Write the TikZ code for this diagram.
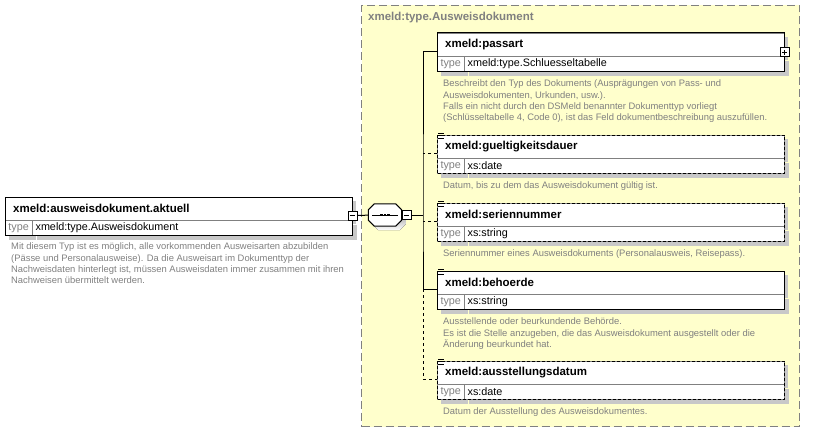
\documentclass[tikz,border=0pt]{standalone}
\usepackage{fontspec}
\setmainfont{Liberation Sans}
\usetikzlibrary{positioning, calc, shadows}
\usepackage{xcolor}
\definecolor{cplx}{HTML}{FFFFCC}
\definecolor{shade}{HTML}{C8C8C8}
\definecolor{note}{HTML}{808080}

\begin{document}
\begin{tikzpicture}[x=1pt, y=-1pt,
    shadowed/.style={drop shadow={shadow xshift=4pt, shadow yshift=-4pt, fill=shade, opacity=1}},
    container/.style={draw=note, fill=cplx, line width=1pt, dash pattern=on 8pt off 4pt, anchor=north west, minimum width=438pt, minimum height=421pt, inner sep=0pt},
    head/.style={draw=note, fill=white, shadowed, anchor=north west, minimum height=23pt, inner xsep=8pt, inner ysep=0pt, text width=331pt, align=left, font=\fontsize{11.5}{13}\selectfont\bfseries},
    tkey/.style={draw=note, fill=white, shadowed, anchor=north west, minimum width=27pt, minimum height=15pt, inner sep=0pt, text=note, font=\fontsize{10.8}{12}\selectfont},
    tval/.style={draw=note, fill=white, shadowed, minimum height=15pt, inner xsep=3pt, inner ysep=0pt, text width=314pt, align=left, font=\fontsize{10.8}{12}\selectfont},
    doc/.style={anchor=north west, inner sep=0pt, align=left, text=note, font=\fontsize{9.4}{11.3}\selectfont},
    frame/.style={line width=1pt},
    optframe/.style={line width=1pt, dash pattern=on 3pt off 2pt},
    wire/.style={line width=1pt},
    optwire/.style={line width=1pt, dash pattern=on 3pt off 3pt},
    toggle/.style={draw, fill=white, minimum size=9pt, inner sep=0pt, line width=0.8pt},
    minus/.style={toggle, path picture={\draw[line width=0.8pt] ([xshift=2pt]path picture bounding box.west) -- ([xshift=-2pt]path picture bounding box.east);}},
    plus/.style={toggle, path picture={\draw[line width=0.8pt] ([xshift=2pt]path picture bounding box.west) -- ([xshift=-2pt]path picture bounding box.east) ([yshift=-2pt]path picture bounding box.north) -- ([yshift=2pt]path picture bounding box.south);}},
    seq/.style={minimum width=33pt, minimum height=22pt, inner sep=0pt},
    octo/.style={line width=1pt, fill=white},
]
\useasboundingbox (0,0) rectangle (818,433);

% ── complex type ──
\node[container] (cx) at (361,5) {};
\node[anchor=west, inner sep=0pt, text=note, font=\fontsize{11.5}{13}\selectfont\bfseries] (cx-t) at (368,18) {xmeld:type.Ausweisdokument};

% ── root element ──
\node[head] (ad) at (5,197) {xmeld:ausweisdokument.aktuell};
\node[tkey] (ad-k) at (ad.south west) {type};
\node[tval, right=0pt of ad-k] (ad-v) {xmeld:type.Ausweisdokument};
\draw[frame] (ad.north west) rectangle (ad-v.south east);
\node[doc] (ad-d) at ($(ad-k.south west)+(6,7)$) {Mit diesem Typ ist es möglich, alle vorkommenden Ausweisarten abzubilden\\(Pässe und Personalausweise). Da die Ausweisart im Dokumenttyp der\\Nachweisdaten hinterlegt ist, müssen Ausweisdaten immer zusammen mit ihren\\Nachweisen übermittelt werden.};
\node[minus] (ad-m) at ([yshift=5pt]ad.south east) {};

% ── sequence ──
\node[seq] (sq) at (385,215) {};
\fill[shade] ($(sq.north west)+(10,4)$) -- ($(sq.north east)+(-2,4)$) -- ($(sq.north east)+(4,10)$)
    -- ($(sq.south east)+(4,-2)$) -- ($(sq.south east)+(-2,4)$) -- ($(sq.south west)+(10,4)$)
    -- ($(sq.south west)+(4,-2)$) -- ($(sq.north west)+(4,10)$) -- cycle;
\draw[octo] ($(sq.north west)+(6,0)$) -- ($(sq.north east)+(-6,0)$) -- ($(sq.north east)+(0,6)$)
    -- ($(sq.south east)+(0,-6)$) -- ($(sq.south east)+(-6,0)$) -- ($(sq.south west)+(6,0)$)
    -- ($(sq.south west)+(0,-6)$) -- ($(sq.north west)+(0,6)$) -- cycle;
\draw[line width=1pt] ($(sq.west)+(4,0)$) -- ($(sq.east)+(-4,0)$);
\foreach \d in {-3.5,0,3.5}
    \fill ($(sq.center)+(\d-1.2,-1.2)$) rectangle ++(2.4,2.4);
\node[minus, right=0pt of sq] (sq-m) {};
\coordinate (bus) at (423,215);

% ── passart ──
\node[head] (pa) at (437,33) {xmeld:passart};
\node[tkey] (pa-k) at (pa.south west) {type};
\node[tval, right=0pt of pa-k] (pa-v) {xmeld:type.Schluesseltabelle};
\draw[frame] (pa.north west) rectangle (pa-v.south east);
\node[plus] (pa-p) at ([yshift=4pt]pa.south east) {};
\node[doc] (pa-d) at ($(pa-k.south west)+(6,8)$) {Beschreibt den Typ des Dokuments (Ausprägungen von Pass- und\\Ausweisdokumenten, Urkunden, usw.).\\Falls ein nicht durch den DSMeld benannter Dokumenttyp vorliegt\\(Schlüsseltabelle 4, Code 0), ist das Feld dokumentbeschreibung auszufüllen.};

% ── gueltigkeitsdauer ──
\node[head] (gu) at (437,135) {xmeld:gueltigkeitsdauer};
\node[tkey] (gu-k) at (gu.south west) {type};
\node[tval, right=0pt of gu-k] (gu-v) {xs:date};
\draw[optframe] (gu.north west) rectangle (gu-v.south east);
\node[doc] (gu-d) at ($(gu-k.south west)+(6,8)$) {Datum, bis zu dem das Ausweisdokument gültig ist.};

% ── seriennummer ──
\node[head] (se) at (437,203) {xmeld:seriennummer};
\node[tkey] (se-k) at (se.south west) {type};
\node[tval, right=0pt of se-k] (se-v) {xs:string};
\draw[optframe] (se.north west) rectangle (se-v.south east);
\node[doc] (se-d) at ($(se-k.south west)+(6,8)$) {Seriennummer eines Ausweisdokuments (Personalausweis, Reisepass).};

% ── behoerde ──
\node[head] (be) at (437,271) {xmeld:behoerde};
\node[tkey] (be-k) at (be.south west) {type};
\node[tval, right=0pt of be-k] (be-v) {xs:string};
\draw[frame] (be.north west) rectangle (be-v.south east);
\node[doc] (be-d) at ($(be-k.south west)+(6,8)$) {Ausstellende oder beurkundende Behörde.\\Es ist die Stelle anzugeben, die das Ausweisdokument ausgestellt oder die\\Änderung beurkundet hat.};

% ── ausstellungsdatum ──
\node[head] (au) at (437,361) {xmeld:ausstellungsdatum};
\node[tkey] (au-k) at (au.south west) {type};
\node[tval, right=0pt of au-k] (au-v) {xs:date};
\draw[optframe] (au.north west) rectangle (au-v.south east);
\node[doc] (au-d) at ($(au-k.south west)+(6,8)$) {Datum der Ausstellung des Ausweisdokumentes.};

% annotation marks
\foreach \n in {gu,se,be,au}
    \foreach \dy in {-2,0.5,3}
        \draw[line width=0.7pt] ($(\n.north west)+(1,\dy)$) -- ++(6,0);

% ── connectors ──
\coordinate (pa-in) at ([yshift=5pt]pa.south west);
\coordinate (gu-in) at ([yshift=5pt]gu.south west);
\coordinate (se-in) at ([yshift=5pt]se.south west);
\coordinate (be-in) at ([yshift=5pt]be.south west);
\coordinate (au-in) at ([yshift=5pt]au.south west);

\draw[wire] (ad-m) -- (sq);
\draw[wire] (sq-m) -- (bus);
\draw[wire] (pa-in) -| (bus) -- (bus |- be-in) -- (be-in);
\draw[optwire] (gu-in) -- (gu-in -| bus);
\draw[optwire] (se-in) -- (se-in -| bus);
\draw[optwire] (bus |- be-in) |- (au-in);

\end{tikzpicture}
\end{document}
